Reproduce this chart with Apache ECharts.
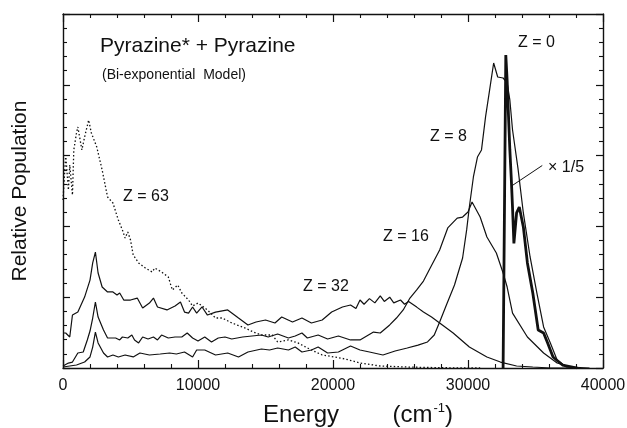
<!DOCTYPE html>
<html>
<head>
<meta charset="utf-8">
<script src="https://cdn.jsdelivr.net/npm/echarts@6/dist/echarts.min.js"></script>
<style>
  html, body { margin: 0; padding: 0; background: #fff; }
  #chart { width: 627px; height: 428px; }
</style>
</head>
<body>
<div id="chart"></div>
<script>
// Energy axis range and tick step (cm^-1)
const energyMin = 0;
const energyMax = 40000;
const energyStep = 10000;

// Population axis (arbitrary units, no labels)
const popMin = 0;
const popMax = 25;
const popStep = 5;

// Population distributions after Z collisions: [energy (cm^-1), population]
const z63 = [
  [0, 11.86], [200, 15.04], [400, 12.57], [500, 14.34], [700, 12.22], [800, 15.4],
  [1000, 16.6], [1100, 17.02], [1400, 15.4], [1600, 16.31], [1900, 17.51], [2100, 16.6],
  [2500, 15.61], [2900, 13.98], [3300, 12.08], [3700, 11.65], [4100, 10.45], [4400, 9.75],
  [4600, 9.18], [4800, 9.6], [5000, 9.04], [5200, 7.98], [5600, 7.42], [6100, 7.06],
  [6600, 6.78], [6800, 7.06], [7300, 6.78], [7800, 6.43], [8100, 5.51], [8500, 5.86],
  [8800, 5.3], [9300, 4.8], [9600, 4.38], [10000, 4.59], [10700, 4.1], [11300, 3.53],
  [11800, 3.53], [12500, 3.18], [13500, 2.82], [14100, 2.54], [14700, 2.33], [15500, 2.33],
  [15900, 1.84], [16700, 1.98], [17400, 1.77], [18400, 1.27], [19200, 0.92], [20100, 0.78],
  [20900, 0.64], [22000, 0.35], [23500, 0.14], [25500, 0.07], [27900, 0.02], [30900, 0]
];

const z32 = [
  [0, 2.47], [200, 2.47], [500, 2.19], [700, 3.74], [1100, 3.95], [1600, 5.01],
  [2000, 6.21], [2200, 7.42], [2400, 8.19], [2600, 6.71], [2900, 5.72], [3300, 5.37],
  [3700, 5.37], [4000, 5.16], [4200, 5.3], [4500, 4.8], [5000, 4.8], [5500, 4.94],
  [5900, 4.24], [6400, 4.59], [6700, 4.94], [7000, 4.31], [7700, 4.1], [8300, 4.38],
  [8700, 4.66], [9000, 3.95], [9300, 3.88], [9600, 4.31], [9900, 3.88], [10300, 4.31],
  [10700, 3.74], [11300, 3.95], [12200, 4.1], [13000, 3.53], [13700, 3.04], [14300, 3.25],
  [15000, 3.39], [15700, 3.18], [16200, 3.6], [17000, 3.25], [17700, 3.53], [18400, 3.18],
  [19200, 3.39], [19900, 3.95], [20700, 4.31], [21300, 4.45], [21700, 4.2], [22000, 4.8],
  [22300, 4.5], [22700, 4.9], [23100, 4.6], [23500, 5.1], [23800, 4.7], [24200, 5.0],
  [24500, 4.6], [25000, 4.8], [25300, 4.5], [25600, 4.7], [25900, 4.5], [26200, 4.3],
  [26700, 3.95], [27300, 3.6], [27900, 3.18], [28900, 2.47], [30100, 1.48], [31400, 0.78],
  [32400, 0.42], [33600, 0.14], [34800, 0.07], [36100, 0], [37600, 0]
];

const z16 = [
  [0, 0.14], [400, 0.35], [700, 0.42], [1100, 1.06], [1500, 1.13], [1800, 1.98],
  [2000, 2.61], [2200, 3.53], [2400, 4.66], [2600, 3.6], [3000, 2.68], [3300, 2.12],
  [3900, 2.12], [4200, 1.98], [4400, 2.19], [4800, 2.12], [5100, 2.33], [5300, 1.98],
  [5600, 1.77], [5900, 2.19], [6300, 2.05], [6700, 2.19], [7000, 1.98], [7300, 2.33],
  [7800, 2.12], [8300, 2.19], [8800, 2.19], [9200, 2.47], [9600, 2.12], [10000, 1.91],
  [10500, 2.19], [11000, 1.84], [11500, 2.12], [12000, 2.19], [12500, 2.05], [13300, 2.19],
  [14000, 2.26], [14700, 2.33], [15200, 2.19], [15900, 2.4], [16700, 2.12], [17200, 2.26],
  [17700, 2.47], [18100, 2.12], [18900, 2.33], [19600, 2.05], [20400, 2.26], [21300, 1.98],
  [22000, 1.98], [23000, 2.54], [23500, 2.47], [24200, 3.04], [24700, 3.53], [25200, 4.1],
  [25700, 4.94], [26200, 5.51], [26700, 6.14], [27200, 7.06], [27900, 8.33], [28500, 9.89],
  [29200, 10.59], [29600, 10.66], [30000, 11.02], [30300, 11.72], [30900, 10.66], [31400, 9.25],
  [32100, 8.12], [32600, 6.71], [32900, 5.72], [33300, 3.88], [34400, 2.19], [35600, 1.06],
  [36600, 0.35], [37600, 0.07], [39000, 0]
];

const z8 = [
  [0, 0.07], [500, 0.14], [1000, 0.21], [1600, 0.42], [2000, 0.78], [2200, 1.48],
  [2400, 2.54], [2600, 1.77], [3000, 1.06], [3300, 0.78], [3700, 0.92], [4100, 0.78],
  [4600, 0.92], [5200, 0.78], [5700, 1.06], [6400, 0.92], [7200, 0.99], [7900, 1.06],
  [8400, 0.99], [9000, 1.13], [9600, 0.78], [9900, 1.27], [10500, 1.27], [11300, 0.92],
  [12200, 1.06], [13000, 0.78], [13700, 1.13], [14700, 1.34], [15300, 1.27], [15900, 1.41],
  [16700, 1.27], [17200, 1.48], [17700, 1.13], [18400, 1.27], [18900, 1.48], [19600, 1.06],
  [20400, 1.13], [21300, 1.55], [22000, 1.27], [22700, 1.13], [23700, 0.92], [24600, 1.2],
  [25500, 1.41], [26300, 1.62], [27000, 1.84], [27500, 2.33], [27900, 3.25], [28400, 4.45],
  [29000, 5.86], [29600, 7.77], [29900, 9.75], [30100, 11.37], [30400, 13.49], [30700, 14.9],
  [31000, 15.4], [31300, 17.73], [31600, 19.63], [31900, 21.54], [32200, 20.55], [32600, 20.48],
  [32900, 20.13], [33100, 18.93], [33300, 16.81], [33700, 14.12], [34100, 10.95], [34600, 7.84],
  [35100, 5.3], [35600, 2.9], [36100, 1.77], [36600, 0.56], [37300, 0.07], [38300, 0]
];

// Initial distribution (scaled by 1/5)
const z0 = [
  [32600, 0], [32700, 0], [32800, 22.1], [32900, 20.3], [33000, 17.8], [33100, 15.4],
  [33200, 13.5], [33300, 11.3], [33400, 8.8], [33600, 10.95], [33800, 11.37], [34100, 9.96],
  [34400, 7.42], [34800, 5.3], [35200, 2.68], [35600, 2.47], [35900, 1.77], [36300, 0.78],
  [37000, 0.21], [38100, 0]
];

// Pointer from the "× 1/5" note to the Z = 0 curve
const scaleNotePointer = [[33300, 12.9], [35500, 14.3]];

const FONT = '"Liberation Sans", Arial, Helvetica, sans-serif';
const INK = '#111';

const chart = echarts.init(document.getElementById('chart'), null, { renderer: 'canvas' });

const axisLine = { show: true, onZero: false, lineStyle: { color: INK, width: 1.4 } };

function xAxisDef(position, showLabels) {
  return {
    type: 'value',
    position: position,
    min: energyMin,
    max: energyMax,
    interval: energyStep,
    axisLine: axisLine,
    axisTick: { show: true, inside: true, length: 8, lineStyle: { color: INK, width: 1.2 } },
    minorTick: { show: true, splitNumber: 5, length: 4, lineStyle: { color: INK, width: 1.1 } },
    splitLine: { show: false },
    minorSplitLine: { show: false },
    axisLabel: {
      show: showLabels, color: INK, fontSize: 16, fontFamily: FONT, margin: 10,
      formatter: function (v) { return String(v); }
    }
  };
}

function yAxisDef(position) {
  return {
    type: 'value',
    position: position,
    min: popMin,
    max: popMax,
    interval: popStep,
    axisLine: axisLine,
    axisTick: { show: true, inside: true, length: 7, lineStyle: { color: INK, width: 1.2 } },
    minorTick: { show: true, splitNumber: 5, length: 4, lineStyle: { color: INK, width: 1.1 } },
    splitLine: { show: false },
    minorSplitLine: { show: false },
    axisLabel: { show: false }
  };
}

const xBottom = xAxisDef('bottom', true);
xBottom.name = 'Energy        {p|(cm}{s|-1}{p|)}';
xBottom.nameLocation = 'middle';
xBottom.nameGap = 34;
xBottom.nameTextStyle = {
  color: INK, fontSize: 24, fontFamily: FONT,
  padding: [0, 0, 0, 50],
  rich: {
    p: { fontSize: 24, fontFamily: FONT, color: INK },
    s: { fontSize: 13, fontFamily: FONT, color: INK, padding: [0, 0, 13, 1] }
  }
};

const yLeft = yAxisDef('left');
yLeft.name = 'Relative Population';
yLeft.nameLocation = 'middle';
yLeft.nameGap = 32;
yLeft.nameTextStyle = { color: INK, fontSize: 21, fontFamily: FONT };

function curve(name, data, width, type) {
  return {
    name: name,
    type: 'line',
    data: data,
    showSymbol: false,
    symbol: 'none',
    smooth: false,
    lineStyle: { color: INK, width: width, type: type || 'solid' },
    z: 3
  };
}

function note(text, x, y, size) {
  return {
    type: 'text',
    x: x,
    y: y,
    style: {
      text: text,
      fill: INK,
      font: size + 'px ' + FONT,
      align: 'left',
      verticalAlign: 'middle'
    },
    z: 10
  };
}

chart.setOption({
  animation: false,
  backgroundColor: '#fff',
  grid: { left: 63, right: 24, top: 14, bottom: 60, containLabel: false, outerBoundsMode: 'none' },
  xAxis: [xBottom, xAxisDef('top', false)],
  yAxis: [yLeft, yAxisDef('right')],
  series: [
    curve('Z = 63', z63, 1.3, [1.5, 2.2]),
    curve('Z = 32', z32, 1.2),
    curve('Z = 16', z16, 1.2),
    curve('Z = 8', z8, 1.2),
    curve('Z = 0', z0, 2.8),
    curve('scale note', scaleNotePointer, 1)
  ],
  graphic: [
    note('Pyrazine* + Pyrazine', 100, 46, 21),
    note('(Bi-exponential  Model)', 102, 75, 14),
    note('Z = 63', 123, 197, 16),
    note('Z = 32', 303, 287, 16),
    note('Z = 16', 383, 237, 16),
    note('Z = 8', 430, 137, 16),
    note('Z = 0', 518, 43, 16),
    note('\u00d7 1/5', 548, 168, 16)
  ]
});
</script>
</body>
</html>
